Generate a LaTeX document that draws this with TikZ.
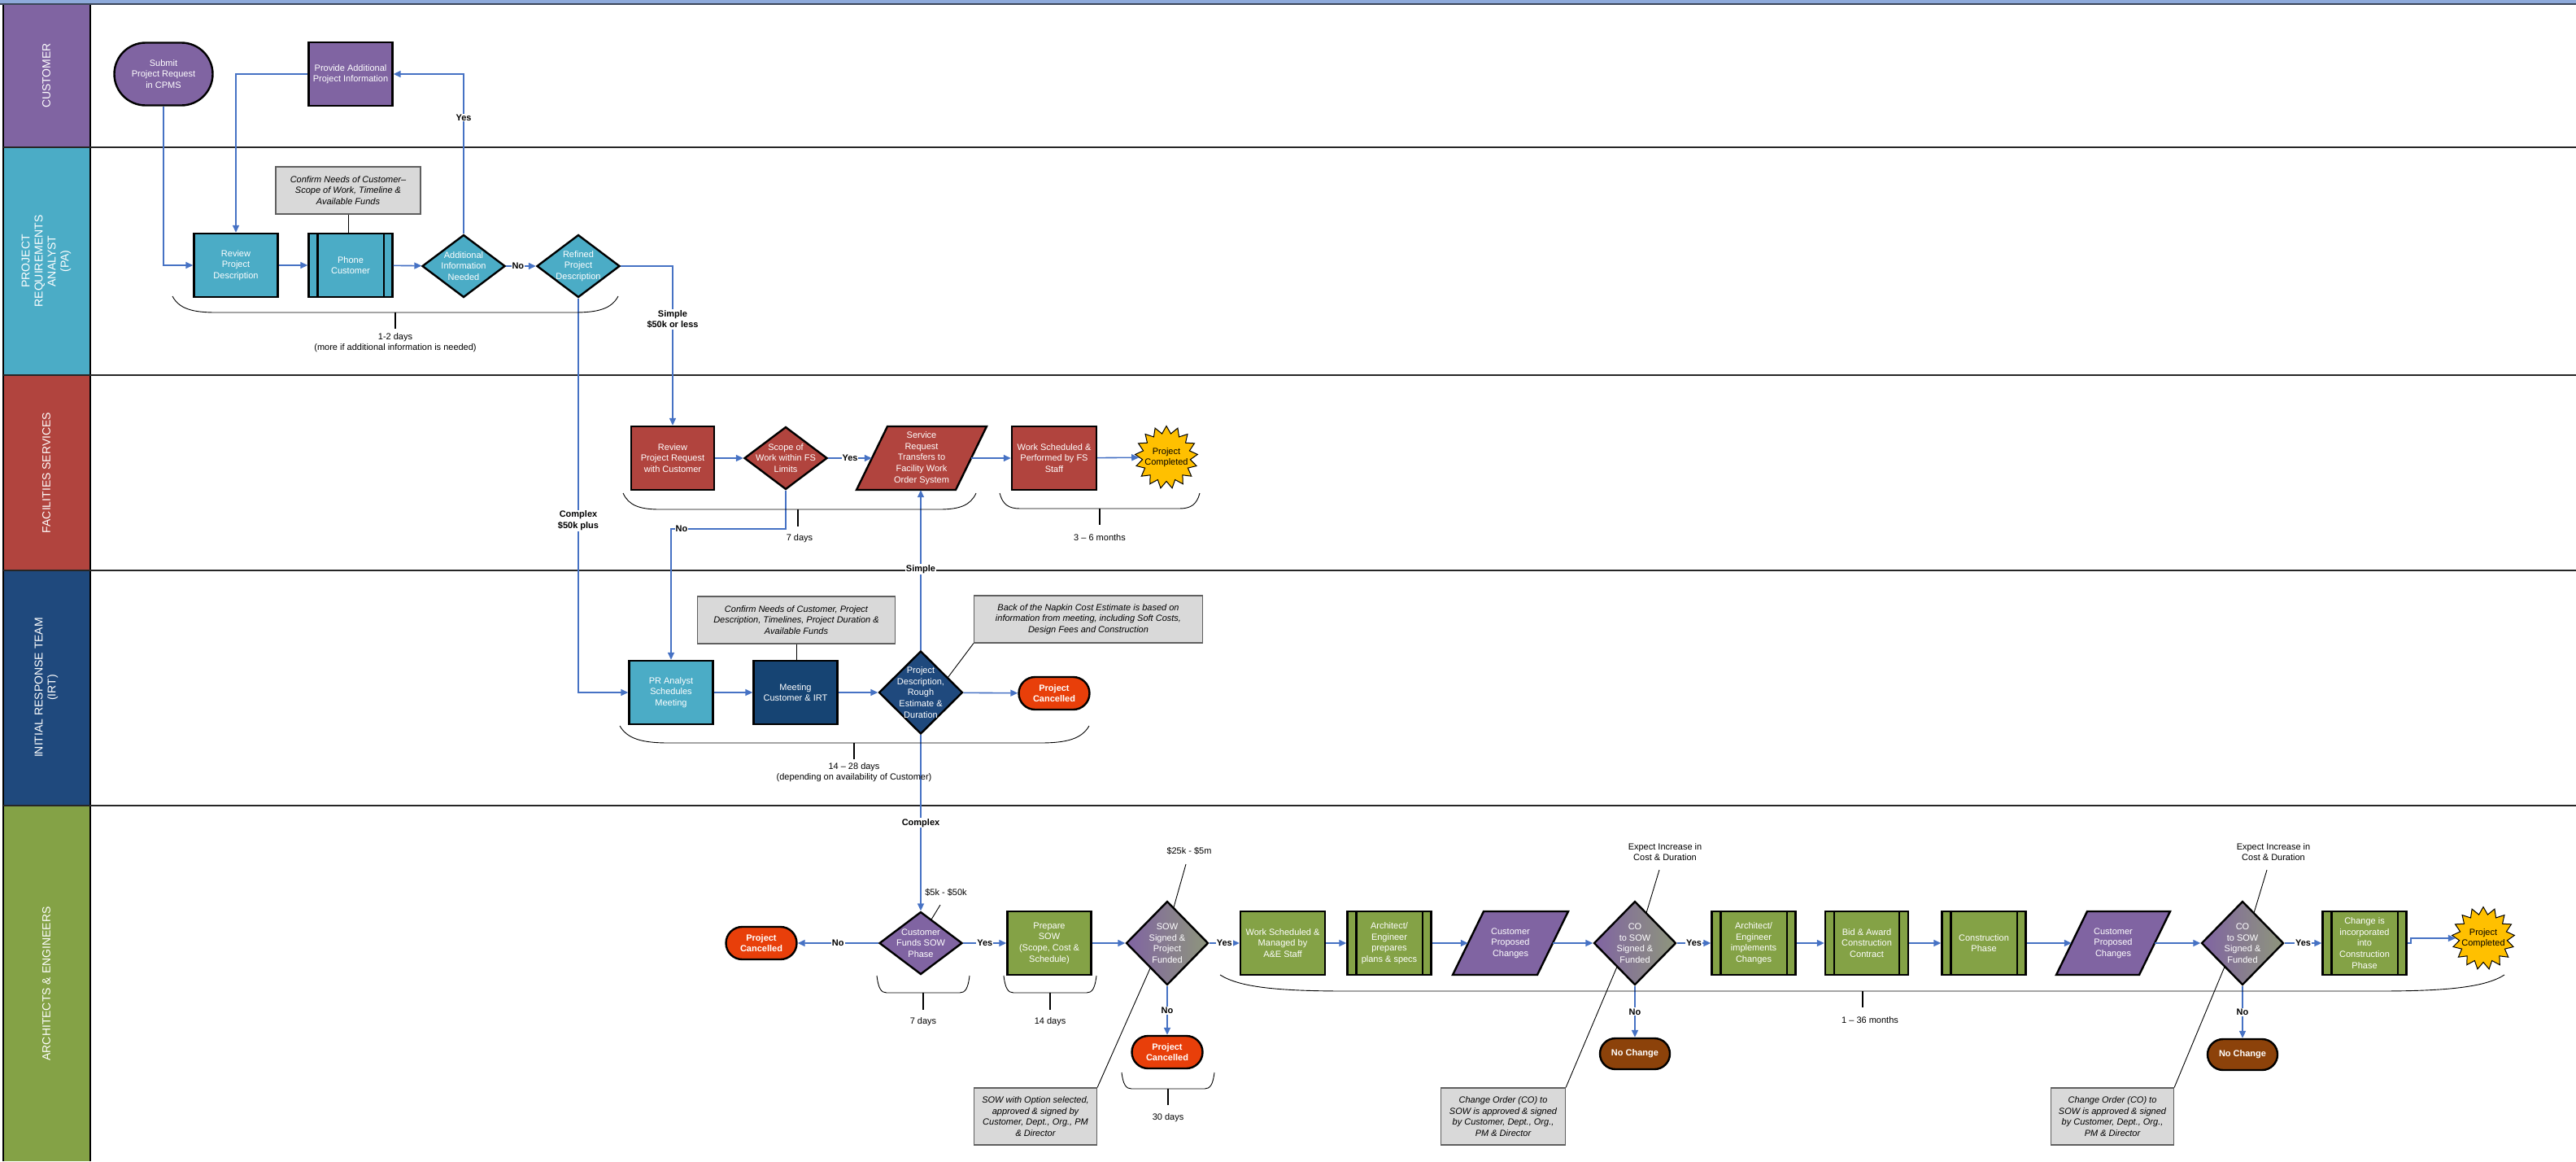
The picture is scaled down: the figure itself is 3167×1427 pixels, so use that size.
\documentclass[tikz,border=0pt]{standalone}
\usepackage{fontspec}
\setmainfont{Liberation Sans}
\usetikzlibrary{arrows.meta,shapes.geometric,shapes.misc,shapes.symbols}
\definecolor{cpurple}{RGB}{128,100,162}
\definecolor{cteal}{RGB}{75,172,198}
\definecolor{cred}{RGB}{177,68,62}
\definecolor{cnavy}{RGB}{31,73,125}
\definecolor{cmeet}{RGB}{22,68,115}
\definecolor{cgreen}{RGB}{132,162,70}
\definecolor{ccancel}{RGB}{232,63,10}
\definecolor{cnochg}{RGB}{140,66,10}
\definecolor{cgold}{RGB}{255,192,0}
\definecolor{cnote}{RGB}{217,217,217}
\definecolor{cnoteb}{RGB}{95,95,95}
\definecolor{cflow}{RGB}{70,114,196}
\definecolor{cbar}{RGB}{142,170,219}
\definecolor{cbarline}{RGB}{60,70,90}
\definecolor{cgreyg}{RGB}{142,150,124}
\newcommand\nf{\fontsize{11}{13.6}\selectfont}
\newcommand\predef[1]{\draw[line width=2.4pt] ([xshift=12pt]#1.north west) -- ([xshift=12pt]#1.south west) ([xshift=-12pt]#1.north east) -- ([xshift=-12pt]#1.south east);}
\newcommand\para[6]{%
 \filldraw[fill=#5, draw=black, line width=2.4pt, line join=miter] ({#2-#4/2-19},{#3+39}) -- ({#2-#4/2+19},{#3-39}) -- ({#2+#4/2+19},{#3-39}) -- ({#2+#4/2-19},{#3+39}) -- cycle;
 \node[rectangle, minimum width=#4pt, minimum height=78pt, inner sep=0pt, align=center, text=white] (#1) at (#2,#3) {#6};}
\newcommand\brc[7]{%
 \draw[lead] (#1,#3) .. controls ({#1+0.15*#5},{#3+0.75*(#4-#3)}) and ({#1+0.45*#5},#4) .. ({#1+#5},#4) -- ({#2-#5},#4) .. controls ({#2-0.45*#5},#4) and ({#2-0.15*#5},{#3+0.75*(#4-#3)}) .. (#2,#3);
 \draw[tickl] (#6,#4) -- (#6,#7);}
\begin{document}
\begin{tikzpicture}[x=1pt,y=-1pt,
 every node/.style={font=\nf},
 proc/.style={rectangle, draw=black, line width=2.4pt, minimum width=103pt, minimum height=78pt, inner sep=0pt, align=center, text=white},
 term/.style={rounded rectangle, draw=black, line width=2.4pt, minimum width=87pt, minimum height=40pt, inner sep=0pt, align=center, text=white, font=\nf\bfseries},
 dec/.style={diamond, draw=black, line width=2.4pt, minimum width=102pt, minimum height=77pt, inner sep=0pt},
 dtext/.style={align=center, text=white, inner sep=0pt},
 note/.style={rectangle, draw=cnoteb, fill=cnote, line width=1.2pt, inner sep=0pt, align=center, font=\nf\itshape},
 flow/.style={draw=cflow, line width=1.6pt, -{Triangle[length=9pt,width=8pt]}},
 lbl/.style={fill=white, inner sep=1pt, font=\nf\bfseries, align=center},
 dur/.style={align=center},
 lead/.style={draw=black, line width=0.9pt},
 tickl/.style={draw=black, line width=1.3pt},
 burst/.style={starburst, starburst points=17, starburst point height=9pt, random starburst=0, draw=black, line width=1pt, fill=cgold, minimum width=77pt, minimum height=77pt, inner sep=0pt},
 btext/.style={align=center, text=black, inner sep=0pt},
 lane/.style={rotate=90, text=white, font=\fontsize{14}{16}\selectfont, align=center},
]
\useasboundingbox (0,0) rectangle (3167,1427);
% top bar
\fill[cbar] (0,0) rectangle (3167,4.5);
\draw[line width=1.8pt, cbarline] (0,5) -- (3167,5);
% lane label cells
\fill[cpurple] (4,6) rectangle (111,181);
\fill[cteal] (4,181) rectangle (111,461);
\fill[cred] (4,461) rectangle (111,701);
\fill[cnavy] (4,701) rectangle (111,990);
\fill[cgreen] (4,990) rectangle (111,1427);
\draw[line width=1.2pt] (4,6) -- (4,1427) (111,6) -- (111,1427);
\foreach \yy in {181,461,701,990} \draw[line width=1.6pt, black!85] (4,\yy) -- (3167,\yy);
\node[lane] (lc) at (57,93) {CUSTOMER};
\node[lane] (lp) at (57,321) {PROJECT\\REQUIREMENTS\\ANALYST\\(PA)};
\node[lane] (lf) at (57,581) {FACILITIES SERVICES};
\node[lane] (li) at (57,845) {INITIAL RESPONSE TEAM\\(IRT)};
\node[lane] (la) at (57,1209) {ARCHITECTS \& ENGINEERS};

% ---------- Customer / PA ----------
\node[term, minimum width=121pt, minimum height=77pt, fill=cpurple, font=\nf] (sub) at (201,91) {Submit\\Project Request\\in CPMS};
\node[proc, fill=cpurple] (prov) at (431,91) {Provide Additional\\Project Information};
\node[note, minimum width=178pt, minimum height=58pt] (n1) at (428,234) {Confirm Needs of Customer--\\Scope of Work, Timeline \&\\Available Funds};
\node[proc, fill=cteal] (rev) at (290,326) {Review\\Project\\Description};
\node[proc, fill=cteal] (phone) at (431,326) {Phone\\Customer};
\predef{phone}
\node[dec, fill=cteal, label={[dtext]center:Additional\\Information\\Needed}] (add) at (570,327) {};
\node[dec, fill=cteal, label={[dtext]center:Refined\\Project\\Description}] (ref) at (711,327) {};

% ---------- FS ----------
\node[proc, fill=cred, minimum width=102pt] (rpr) at (827,563) {Review\\Project Request\\with Customer};
\node[dec, fill=cred, label={[dtext]center:Scope of\\Work within FS\\Limits}] (scope) at (966,563) {};
\para{sr}{1133}{563}{122}{cred}{Service\\Request\\Transfers to\\Facility Work\\Order System}
\node[proc, fill=cred, minimum width=104pt] (wsf) at (1296,563) {Work Scheduled \&\\Performed by FS\\Staff};
\node[burst, label={[btext]center:Project\\Completed}] (pc1) at (1434,562) {};

% ---------- IRT ----------
\node[note, minimum width=243pt, minimum height=58pt] (n2) at (979,762) {Confirm Needs of Customer, Project\\Description, Timelines, Project Duration \&\\Available Funds};
\node[note, minimum width=281pt, minimum height=58pt] (n3) at (1338,761) {Back of the Napkin Cost Estimate is based on\\information from meeting, including Soft Costs,\\Design Fees and Construction};
\node[proc, fill=cteal] (pra) at (825,851) {PR Analyst\\Schedules\\Meeting};
\node[proc, fill=cmeet] (meet) at (978,851) {Meeting\\Customer \& IRT};
\node[dec, fill=cnavy, minimum width=103pt, minimum height=102pt, label={[dtext]center:{Project\\Description,\\Rough\\Estimate \&\\Duration}}] (pde) at (1132,851) {};
\node[term, fill=ccancel] (can1) at (1296,852) {Project\\Cancelled};

% ---------- A&E ----------
\node[dec, fill=cpurple, label={[dtext]center:Customer\\Funds SOW\\Phase}] (cfs) at (1132,1159) {};
\node[term, fill=ccancel] (can2) at (936,1159) {Project\\Cancelled};
\node[proc, fill=cgreen] (psow) at (1290,1159) {Prepare\\SOW\\(Scope, Cost \&\\Schedule)};
\node[dec, left color=cpurple, right color=cgreyg, minimum width=101pt, minimum height=103pt, label={[dtext]center:SOW\\Signed \&\\Project\\Funded}] (sowf) at (1435,1159) {};
\node[term, fill=ccancel] (can3) at (1435,1293) {Project\\Cancelled};
\node[proc, fill=cgreen, minimum width=104pt] (wsa) at (1577,1159) {Work Scheduled \&\\Managed by\\A\&E Staff};
\node[proc, fill=cgreen] (arch1) at (1708,1159) {Architect/\\Engineer\\prepares\\plans \& specs};
\predef{arch1}
\para{cpc1}{1857}{1159}{104}{cpurple}{Customer\\Proposed\\Changes}
\node[dec, left color=cpurple, right color=cgreyg, minimum width=101pt, minimum height=103pt, label={[dtext]center:CO\\to SOW\\Signed \&\\Funded}] (co1) at (2010,1159) {};
\node[term, fill=cnochg, minimum width=86pt, minimum height=38pt] (nc1) at (2010,1295) {No Change};
\node[proc, fill=cgreen] (aei) at (2156,1159) {Architect/\\Engineer\\implements\\Changes};
\predef{aei}
\node[proc, fill=cgreen, minimum width=102pt] (bid) at (2295,1159) {Bid \& Award\\Construction\\Contract};
\predef{bid}
\node[proc, fill=cgreen] (cons) at (2439,1159) {Construction\\Phase};
\predef{cons}
\para{cpc2}{2598}{1159}{102}{cpurple}{Customer\\Proposed\\Changes}
\node[dec, left color=cpurple, right color=cgreyg, minimum width=101pt, minimum height=103pt, label={[dtext]center:CO\\to SOW\\Signed \&\\Funded}] (co2) at (2757,1159) {};
\node[term, fill=cnochg, minimum width=86pt, minimum height=38pt] (nc2) at (2757,1296) {No Change};
\node[proc, fill=cgreen] (chg) at (2907,1159) {Change is\\incorporated\\into\\Construction\\Phase};
\predef{chg}
\node[burst, label={[btext]center:Project\\Completed}] (pc2) at (3053,1153) {};

\node[note, minimum width=151pt, minimum height=70pt] (n4) at (1273,1372) {SOW with Option selected,\\approved \& signed by\\Customer, Dept., Org., PM\\\& Director};
\node[note, minimum width=153pt, minimum height=70pt] (n5) at (1848,1372) {Change Order (CO) to\\SOW is approved \& signed\\by Customer, Dept., Org.,\\PM \& Director};
\node[note, minimum width=151pt, minimum height=70pt] (n6) at (2597,1372) {Change Order (CO) to\\SOW is approved \& signed\\by Customer, Dept., Org.,\\PM \& Director};

\node (l5k) at (1163,1097) {\$5k - \$50k};
\node (l25k) at (1462,1046) {\$25k - \$5m};
\node[align=center] (ex1) at (2047,1047) {Expect Increase in\\Cost \& Duration};
\node[align=center] (ex2) at (2795,1047) {Expect Increase in\\Cost \& Duration};

% ---------- connectors ----------
\draw[flow] (sub.south) |- (rev.west);
\draw[flow] (prov.west) -| (rev.north);
\draw[flow] (rev) -- (phone);
\draw[flow] (phone) -- (add);
\draw[flow] (add.north) |- node[lbl, pos=0.364]{Yes} (prov.east);
\draw[flow] (add) -- node[lbl, pos=0.4]{No} (ref);
\draw[flow] (ref.east) -| node[lbl, pos=0.667]{Simple\\\$50k or less} (rpr.north);
\draw[flow] (ref.south) |- node[lbl, pos=0.282]{Complex\\\$50k plus} (pra.west);
\draw[flow] (rpr) -- (scope);
\draw[flow] (scope) -- node[lbl]{Yes} (sr.west);
\draw[flow] (sr.east) -- (wsf);
\draw[flow] (wsf) -- (pc1);
\draw[flow] (scope.south) -- ++(0,47) -| node[lbl, pos=0.454]{No} (pra.north);
\draw[flow] (pra) -- (meet);
\draw[flow] (meet) -- (pde);
\draw[flow] (pde) -- (can1);
\draw[flow] (pde.north) -- node[lbl, pos=0.505]{Simple} (pde.north |- sr.south);
\draw[flow] (pde.south) -- node[lbl, pos=0.5]{Complex} (cfs.north);
\draw[flow] (cfs) -- node[lbl]{No} (can2);
\draw[flow] (cfs) -- node[lbl]{Yes} (psow);
\draw[flow] (psow) -- (sowf);
\draw[flow] (sowf) -- node[lbl]{Yes} (wsa);
\draw[flow] (sowf) -- node[lbl]{No} (can3);
\draw[flow] (wsa) -- (arch1);
\draw[flow] (arch1) -- (cpc1.west);
\draw[flow] (cpc1.east) -- (co1);
\draw[flow] (co1) -- node[lbl]{Yes} (aei);
\draw[flow] (co1) -- node[lbl]{No} (nc1);
\draw[flow] (aei) -- (bid);
\draw[flow] (bid) -- (cons);
\draw[flow] (cons) -- (cpc2.west);
\draw[flow] (cpc2.east) -- (co2);
\draw[flow] (co2) -- node[lbl]{Yes} (chg);
\draw[flow] (co2) -- node[lbl]{No} (nc2);
\draw[flow] (chg.east) -- ++(4,0) |- (pc2);

% ---------- leader lines ----------
\coordinate (pdeP) at (1165,833);
\coordinate (c5a) at (1156,1112);
\coordinate (c5b) at (1145,1130);
\coordinate (c25a) at (1458,1062);
\coordinate (c25b) at (1443,1115);
\coordinate (e1a) at (2040,1069);
\coordinate (e1b) at (2024,1122);
\coordinate (e2a) at (2787,1069);
\coordinate (e2b) at (2771,1122);
\coordinate (s4) at (1414,1190);
\coordinate (s5) at (1988,1188);
\coordinate (s6) at (2735,1188);
\draw[lead] (n1.south) -- (n1.south |- phone.north);
\draw[lead] (n2.south) -- (n2.south |- meet.north);
\draw[lead] (n3.south west) -- (pdeP);
\draw[lead] (c5a) -- (c5b);
\draw[lead] (c25a) -- (c25b);
\draw[lead] (e1a) -- (e1b);
\draw[lead] (e2a) -- (e2b);
\draw[lead] (n4.north east) -- (s4);
\draw[lead] (n5.north east) -- (s5);
\draw[lead] (n6.north east) -- (s6);

% ---------- braces and durations ----------
\brc{212}{760}{364}{384}{53}{486}{404}
\node[dur] (d1) at (486,421) {1-2 days\\(more if additional information is needed)};
\brc{766}{1200}{606}{626}{45}{981}{647}
\node[dur] (d2) at (983,662) {7 days};
\brc{1229}{1475}{606}{625}{25}{1352}{645}
\node[dur] (d3) at (1352,661) {3 -- 6 months};
\brc{762}{1339}{892}{913}{60}{1050}{933}
\node[dur] (d4) at (1050,949) {14 -- 28 days\\(depending on availability of Customer)};
\brc{1078}{1192}{1199}{1220}{12}{1135}{1241}
\node[dur] (d5) at (1135,1256) {7 days};
\brc{1234}{1348}{1199}{1220}{12}{1291}{1241}
\node[dur] (d6) at (1291,1256) {14 days};
\brc{1379}{1493}{1318}{1338}{12}{1436}{1358}
\node[dur] (d7) at (1436,1374) {30 days};
\brc{1500}{3079}{1198}{1218}{155}{2290}{1238}
\node[dur] (d8) at (2299,1254) {1 -- 36 months};
\end{tikzpicture}
\end{document}
